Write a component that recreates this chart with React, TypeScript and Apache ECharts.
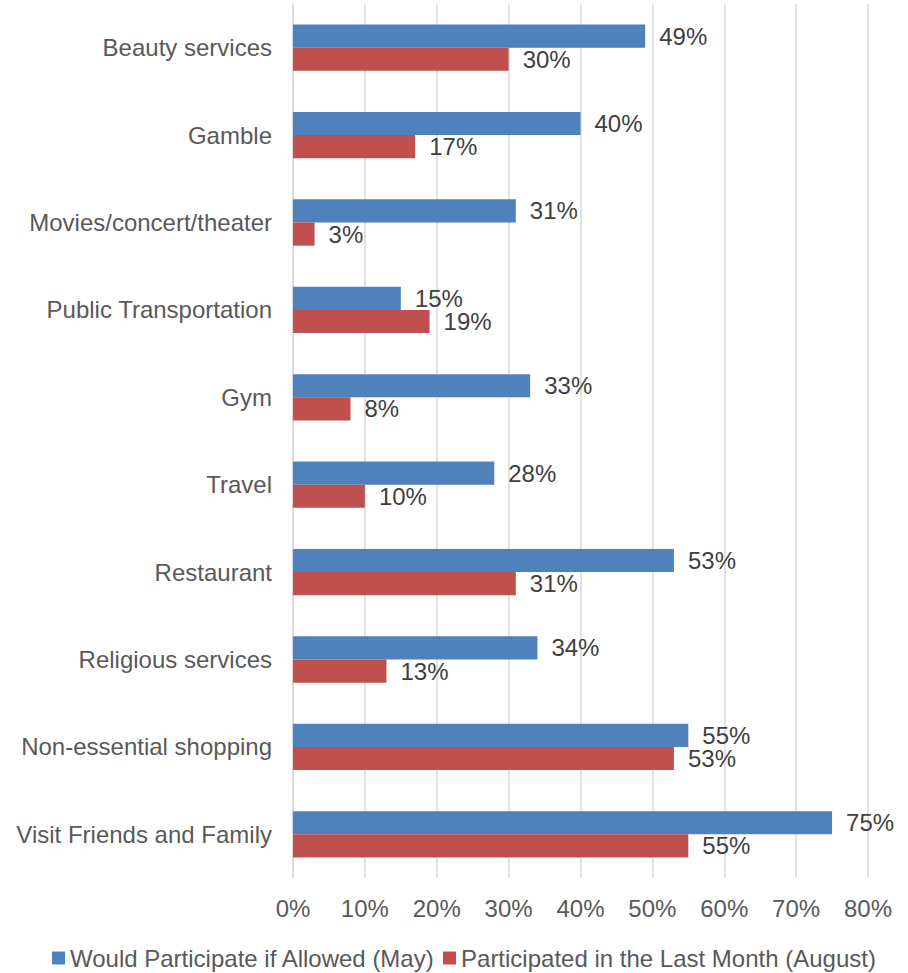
import React, { useEffect, useRef } from "react";
import * as echarts from "echarts";

const categories = [
  "Beauty services",
  "Gamble",
  "Movies/concert/theater",
  "Public Transportation",
  "Gym",
  "Travel",
  "Restaurant",
  "Religious services",
  "Non-essential shopping",
  "Visit Friends and Family",
];
const mayValues = [49, 40, 31, 15, 33, 28, 53, 34, 55, 75];
const augustValues = [30, 17, 3, 19, 8, 10, 31, 13, 53, 55];
const seriesNames = [
  "Would Participate if Allowed (May)",
  "Participated in the Last Month (August)",
];
const xTicks = { min: 0, max: 80, interval: 10 };

const FONT = "'Liberation Sans', Arial, sans-serif";

export default function App() {
  const ref = useRef<HTMLDivElement>(null);
  useEffect(() => {
    if (!ref.current) return;
    const chart = echarts.init(ref.current, null, { renderer: "svg" });
    const labelStyle = {
      show: true,
      position: "right",
      distance: 14,
      formatter: "{c}%",
      color: "#404040",
      fontSize: 24,
      fontFamily: FONT,
    };
    chart.setOption({
      animation: false,
      backgroundColor: "#ffffff",
      textStyle: { fontFamily: FONT },
      grid: { left: 293, right: 40, top: 4, bottom: 95, containLabel: false },
      legend: {
        left: 52,
        top: 946,
        padding: 0,
        itemWidth: 13,
        itemHeight: 13,
        itemGap: 8,
        icon: "rect",
        textStyle: { color: "#595959", fontSize: 24, fontFamily: FONT },
        data: seriesNames,
      },
      xAxis: {
        type: "value",
        min: xTicks.min,
        max: xTicks.max,
        interval: xTicks.interval,
        axisLine: { show: false },
        axisTick: { show: false },
        splitLine: { show: true, lineStyle: { color: "#d9d9d9", width: 1.5 } },
        axisLabel: {
          formatter: "{value}%",
          color: "#595959",
          fontSize: 24,
          fontFamily: FONT,
          margin: 18,
        },
      },
      yAxis: {
        type: "category",
        data: categories,
        inverse: true,
        axisLine: { show: true, lineStyle: { color: "#d9d9d9", width: 1.5 } },
        axisTick: { show: false },
        axisLabel: {
          color: "#595959",
          fontSize: 24,
          fontFamily: FONT,
          margin: 21,
        },
      },
      series: [
        {
          name: seriesNames[0],
          type: "bar",
          data: mayValues,
          barGap: "0%",
          barCategoryGap: "47%",
          itemStyle: { color: "#4F81BD" },
          label: labelStyle,
        },
        {
          name: seriesNames[1],
          type: "bar",
          data: augustValues,
          barGap: "0%",
          barCategoryGap: "47%",
          itemStyle: { color: "#C0504D" },
          label: labelStyle,
        },
      ],
    });
    return () => chart.dispose();
  }, []);
  return (
    <div
      ref={ref}
      style={{ position: "fixed", left: 0, top: 0, width: 908, height: 973 }}
    />
  );
}
